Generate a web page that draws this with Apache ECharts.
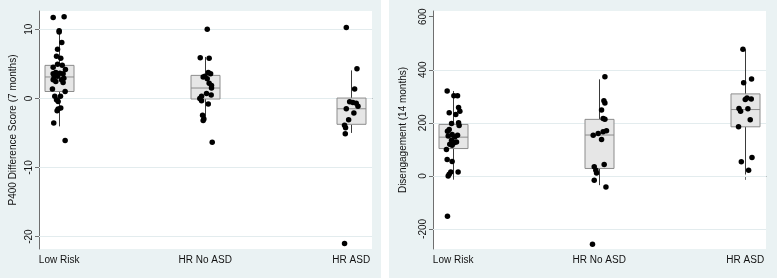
<!DOCTYPE html>
<html>
<head>
<meta charset="utf-8">
<script src="https://cdn.jsdelivr.net/npm/echarts@6/dist/echarts.min.js"></script>
<style>html,body{margin:0;padding:0;background:#fff}#c{width:778px;height:279px}</style>
</head>
<body>
<div id="c"></div>
<script>
// ---- data ----
const categories = ['Low Risk', 'HR No ASD', 'HR ASD'];
const p400Ticks = [-20, -10, 0, 10];
const disTicks = [-200, 0, 200, 400, 600];

// box stats: [lower whisker, Q1, median, Q3, upper whisker]
const p400Box = [
  [-4.05, 1.0, 3.1, 4.78, 9.9],
  [-3.1, -0.09, 1.5, 3.33, 6.0],
  [-5.0, -3.75, -1.5, 0.05, 4.05]
];
const disBox = [
  [-11, 103, 146, 194, 320],
  [-35, 28, 154, 213, 364],
  [5, 185, 250, 309, 477]
];

// P400 (7 months) points and horizontal jitter
const p400LowRisk = [11.7, 11.8, 9.8, 9.6, 8.1, 7.1, 6.1, 5.8, 4.95, 4.8, 4.5, 4.2, 3.75, 3.55, 3.65, 3.55, 3.2, 3.1, 2.9, 2.7, 2.7, 2.3, 2.45, 1.35, 1.0, 0.3, 0.3, -0.2, -0.45, -1.4, -1.55, -1.8, -3.55, -6.1];
const p400LowRiskJit = [-0.041, 0.034, 0, 0, 0.018, -0.011, -0.018, 0.011, -0.011, 0.021, -0.041, 0.043, -0.023, -0.041, 0.005, 0.027, -0.011, -0.034, 0.032, -0.041, 0.016, 0.027, -0.023, -0.046, 0.041, 0.009, -0.030, -0.018, -0.007, 0.011, -0.007, -0.014, -0.037, 0.041];
const p400HRNoASD = [10.0, 5.9, 5.8, 3.75, 3.55, 3.1, 3.2, 2.85, 2.2, 1.85, 1.5, 0.7, 0.5, 0.3, 0.0, -0.35, -0.8, -2.45, -3.0, -3.2, -6.35];
const p400HRNoASDJit = [0.014, -0.034, 0.027, 0.021, 0.037, -0.014, -0.002, 0.014, 0.027, 0.043, 0.043, 0.009, 0.041, -0.025, -0.037, -0.025, 0.021, -0.018, -0.009, -0.014, 0.048];
const p400HRASD = [10.25, 4.3, 1.35, -0.5, -0.6, -0.7, -1.15, -1.5, -2.1, -3.1, -3.9, -4.25, -5.1, -21.0];
const p400HRASDJit = [-0.034, 0.039, 0.023, -0.011, 0.011, 0.034, 0.046, -0.034, 0.018, -0.018, -0.046, -0.039, -0.041, -0.046];

// Disengagement (14 months)
const disLowRisk = [319.5, 302, 302, 258, 244, 238, 231, 197.5, 200, 190, 175, 168.5, 156, 153.5, 150, 147, 134.6, 128, 124.5, 119.5, 115.7, 99.4, 61.6, 54, 15, 15, 6.3, 0, -152];
const disLowRiskJit = [-0.041, 0.005, 0.030, 0.037, 0.046, -0.027, 0.018, -0.011, 0.037, 0.041, -0.027, -0.039, -0.007, 0.030, -0.034, 0.011, -0.011, 0.023, 0.007, -0.023, -0.007, -0.046, -0.041, -0.007, -0.016, 0.034, -0.027, -0.034, -0.039];
const disHRNoASD = [373.6, 283, 275, 248, 213, 216, 170, 166, 160, 153.6, 137, 43, 34, 21.5, 11, -16, -41.5, -258];
const disHRNoASDJit = [0.039, 0.032, 0.039, 0.016, 0.039, 0.027, 0.05, 0.027, -0.007, -0.041, 0.016, 0.034, -0.034, -0.023, -0.018, -0.034, 0.046, -0.046];
const disHRASD = [477, 365, 351, 294, 290, 288, 254, 253, 244, 212, 185, 69, 53, 21];
const disHRASDJit = [-0.016, 0.043, -0.011, 0.012, 0.041, 0.0, -0.043, 0.018, -0.032, 0.034, -0.046, 0.046, -0.027, 0.023];

// ---- build ----
function pts(groups) {
  const out = [];
  groups.forEach(function (g, gi) {
    g[0].forEach(function (v, i) { out.push([gi + 1 + g[1][i], v]); });
  });
  return out;
}
function boxData(stats) {
  return stats.map(function (s, i) { return [i + 1].concat(s); });
}

const FONT = 'Liberation Sans, Arial, sans-serif';
const axisCol = '#6f6f6f';
const gridCol = '#e3ecee';

function renderBox(params, api) {
  const x = api.value(0);
  const lo = api.coord([x, api.value(1)]);
  const q1 = api.coord([x, api.value(2)]);
  const md = api.coord([x, api.value(3)]);
  const q3 = api.coord([x, api.value(4)]);
  const hi = api.coord([x, api.value(5)]);
  const w = 29;
  const cx = Math.round(lo[0]) + 0.5;
  return {
    type: 'group',
    children: [
      { type: 'line', shape: { x1: cx, y1: q1[1], x2: cx, y2: lo[1] }, style: { stroke: '#3a3a3a', lineWidth: 1 } },
      { type: 'line', shape: { x1: cx, y1: q3[1], x2: cx, y2: hi[1] }, style: { stroke: '#3a3a3a', lineWidth: 1 } },
      { type: 'rect', shape: { x: cx - w / 2, y: q3[1], width: w, height: q1[1] - q3[1] }, style: { fill: '#e6e6e6', stroke: '#8c8c8c', lineWidth: 1 } },
      { type: 'line', shape: { x1: cx - w / 2, y1: md[1], x2: cx + w / 2, y2: md[1] }, style: { stroke: '#8c8c8c', lineWidth: 1 } }
    ]
  };
}

function xAxis(gi) {
  return {
    type: 'value', gridIndex: gi, min: 0.862, max: 3.142,
    splitLine: { show: false },
    axisLine: { show: true, lineStyle: { color: axisCol } },
    axisTick: { show: true, length: 4, customValues: [1, 2, 3], lineStyle: { color: axisCol } },
    axisLabel: { customValues: [1, 2, 3], margin: 6, color: '#111', fontFamily: FONT, fontSize: 10,
      formatter: function (v) { return categories[Math.round(v) - 1] || ''; } }
  };
}
function yAxis(gi, min, max, ticks, name, gap) {
  return {
    type: 'value', gridIndex: gi, min: min, max: max,
    name: name, nameLocation: 'middle', nameGap: gap, nameRotate: 90,
    nameTextStyle: { color: '#111', fontFamily: FONT, fontSize: 10 },
    splitLine: { show: false },
    axisLine: { show: true, lineStyle: { color: axisCol } },
    axisTick: { show: true, length: 4, customValues: ticks, lineStyle: { color: axisCol } },
    axisLabel: { customValues: ticks, rotate: 90, margin: 5, color: '#111', fontFamily: FONT, fontSize: 10 }
  };
}

function series(gi, stats, points, ticks) {
  return [
    { type: 'custom', xAxisIndex: gi, yAxisIndex: gi, z: 2, silent: true,
      renderItem: renderBox, encode: { x: 0, y: [1, 2, 3, 4, 5] }, data: boxData(stats) },
    { type: 'scatter', xAxisIndex: gi, yAxisIndex: gi, z: 3, silent: true,
      symbol: 'circle', symbolSize: 5.5, itemStyle: { color: '#000', opacity: 1 },
      data: points,
      markLine: { z: 1, silent: true, symbol: 'none', label: { show: false },
        lineStyle: { color: gridCol, type: 'solid', width: 1.2 },
        emphasis: { disabled: true },
        data: ticks.map(function (t) { return { yAxis: t }; }) } }
  ];
}

const chart = echarts.init(document.getElementById('c'), null, { renderer: 'canvas' });
chart.setOption({
  animation: false,
  backgroundColor: '#ffffff',
  graphic: [
    { type: 'rect', z: -10, shape: { x: 0, y: 0, width: 381, height: 278 }, style: { fill: '#eaf2f3' } },
    { type: 'rect', z: -10, shape: { x: 389, y: 0, width: 388, height: 278 }, style: { fill: '#eaf2f3' } }
  ],
  grid: [
    { left: 39, right: 406, top: 11, bottom: 30, show: true, backgroundColor: '#fff', borderWidth: 0 },
    { left: 433, right: 12, top: 11, bottom: 30, show: true, backgroundColor: '#fff', borderWidth: 0 }
  ],
  xAxis: [xAxis(0), xAxis(1)],
  yAxis: [
    yAxis(0, -21.8, 12.65, p400Ticks, 'P400 Difference Score (7 months)', 21),
    yAxis(1, -275.6, 621.5, disTicks, 'Disengagement (14 months)', 25)
  ],
  series: [].concat(
    series(0, p400Box, pts([[p400LowRisk, p400LowRiskJit], [p400HRNoASD, p400HRNoASDJit], [p400HRASD, p400HRASDJit]]), p400Ticks),
    series(1, disBox, pts([[disLowRisk, disLowRiskJit], [disHRNoASD, disHRNoASDJit], [disHRASD, disHRASDJit]]), disTicks.slice(0, 4))
  )
});
</script>
</body>
</html>
